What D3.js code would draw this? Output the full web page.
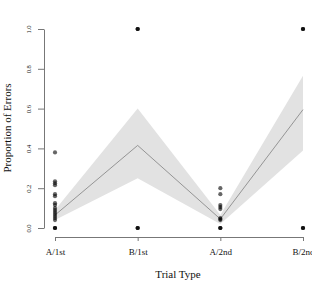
<!DOCTYPE html>
<html lang="en">
<head>
    <meta charset="UTF-8">
    <script src="https://d3js.org/d3.v7.min.js"></script>
    <title>Proportion of Errors</title>
    <style>
        body { margin: 0; background: #fff; }
        text { font-family: "Liberation Serif", "DejaVu Serif", serif; fill: #111; }
    </style>
</head>
<body>
    <svg id="svg" width="312" height="287"></svg>
    <script>
        const trialTypes = ["A/1st", "B/1st", "A/2nd", "B/2nd"]
        const meanValues = [0.065, 0.415, 0.045, 0.595]
        const lowerValues = [0.04, 0.25, 0.02, 0.39]
        const upperValues = [0.09, 0.60, 0.065, 0.765]
        const yTicks = [0.0, 0.2, 0.4, 0.6, 0.8, 1.0]

        // individual proportions per trial type
        const pointsA1 = [0.38, 0.235, 0.225, 0.215, 0.17, 0.16, 0.125, 0.115, 0.1, 0.09, 0.08, 0.07, 0.06, 0.05, 0.04, 0, 0, 0]
        const pointsB1 = [1, 1, 1, 0, 0, 0]
        const pointsA2 = [0.2, 0.17, 0.115, 0.105, 0.095, 0.05, 0.045, 0.04, 0, 0, 0]
        const pointsB2 = [1, 1, 1, 0, 0, 0]

        const allPoints = [pointsA1, pointsB1, pointsA2, pointsB2]
        const pointData = []
        allPoints.forEach((arr, i) => arr.forEach(v => pointData.push({ type: trialTypes[i], value: v })))

        const rows = trialTypes.map((t, i) => ({
            type: t, mean: meanValues[i], lo: lowerValues[i], hi: upperValues[i]
        }))

        const svg = d3.select("#svg")

        const xscale = d3.scalePoint()
            .domain(trialTypes)
            .range([55, 303])

        const yscale = d3.scaleLinear()
            .domain([0, 1])
            .range([228, 29])

        // ribbon
        svg.append("path")
            .datum(rows)
            .attr("fill", "#e2e2e2")
            .attr("d", d3.area()
                .x(d => xscale(d.type))
                .y0(d => yscale(d.lo))
                .y1(d => yscale(d.hi)))

        // mean line
        svg.append("path")
            .datum(rows)
            .attr("fill", "none")
            .attr("stroke", "#808080")
            .attr("stroke-width", 0.8)
            .attr("d", d3.line()
                .x(d => xscale(d.type))
                .y(d => yscale(d.mean)))

        // points
        svg.append("g")
            .selectAll("circle")
            .data(pointData)
            .enter()
            .append("circle")
            .attr("cx", d => xscale(d.type))
            .attr("cy", d => yscale(d.value))
            .attr("r", 2.1)
            .attr("fill", "#000")
            .attr("fill-opacity", 0.6)

        // y axis
        const yAxis = svg.append("g")
            .attr("transform", "translate(44, 0)")
            .call(d3.axisLeft(yscale).tickValues(yTicks).tickFormat(d3.format(".1f")).tickSize(6).tickSizeOuter(0))
        yAxis.select(".domain").attr("stroke", "#777")
        yAxis.selectAll(".tick line").attr("stroke", "#777")
        yAxis.selectAll(".tick text")
            .attr("x", 0)
            .attr("dy", 0)
            .attr("transform", "translate(-13, 0) rotate(-90)")
            .attr("text-anchor", "middle")
            .style("font-size", "6.5px")

        // x axis
        const xAxis = svg.append("g")
            .attr("transform", "translate(0, 237)")
            .call(d3.axisBottom(xscale).tickSize(4).tickSizeOuter(0))
        xAxis.select(".domain").attr("stroke", "#777")
        xAxis.selectAll(".tick line").attr("stroke", "#777")
        xAxis.selectAll(".tick text")
            .attr("y", 12)
            .style("font-size", "9px")

        svg.append("text")
            .attr("x", 178)
            .attr("y", 278)
            .attr("text-anchor", "middle")
            .style("font-size", "11px")
            .text("Trial Type")

        svg.append("text")
            .attr("transform", "translate(11, 128) rotate(-90)")
            .attr("text-anchor", "middle")
            .style("font-size", "11px")
            .text("Proportion of Errors")
    </script>
</body>
</html>
